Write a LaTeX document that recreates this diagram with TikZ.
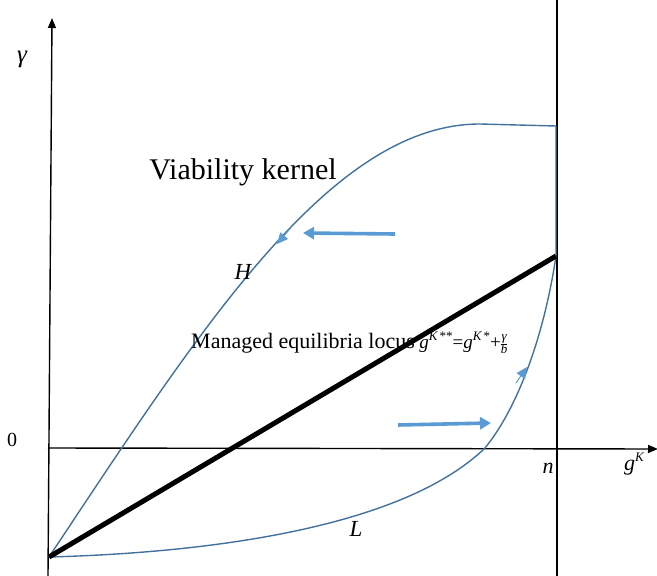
\documentclass[tikz,border=0pt]{standalone}
\usepackage{amsmath,amssymb}
\usepackage{fontspec}
\setmainfont{Liberation Serif}
\usepackage{tikz}
\usetikzlibrary{positioning,arrows.meta,calc}
\definecolor{curve}{HTML}{41719C}
\definecolor{flow}{HTML}{5B9BD5}
\newcommand{\supK}[1]{\raisebox{0.42em}{\fontsize{13}{13}\selectfont #1}}
\newcommand{\gamfrac}{{\fontsize{13}{13}\selectfont\itshape\renewcommand{\arraystretch}{0.85}%
  \setlength{\tabcolsep}{0pt}\begin{tabular}[c]{c}γ\\\hline b\end{tabular}}}
\tikzset{
  axis/.style={black,line width=1.4pt,-{Triangle[length=10pt,width=8pt]}},
  border/.style={curve,line width=1.4pt},
  flowarrow/.style={flow,line width=3.6pt,-{Triangle[length=11pt,width=12pt]}},
  tipon/.style={flow,line width=1pt,-{Triangle[length=11pt,width=10pt]}},
  lbl/.style={font=\fontsize{22}{24}\selectfont\itshape,inner sep=0pt},
  curvelbl/.style={font=\fontsize{23}{25}\selectfont\itshape,inner sep=0pt}
}

\begin{document}
\begin{tikzpicture}[x=1pt,y=-1pt]
  \useasboundingbox (0,0) rectangle (657,576);
  % corner points
  \coordinate (O) at (49,557);
  \coordinate (ybot) at (48,576);
  \coordinate (ytop) at (52,18);
  \coordinate (xl) at (48,448);
  \coordinate (xr) at (658,449);
  \coordinate (ntop) at (557,0);
  \coordinate (nbot) at (557,576);
  \coordinate (E) at (556,256);
  \coordinate (Htop) at (556,126);
  % axes
  \draw[axis] (ybot) -- (ytop);
  \draw[axis] (xl) -- (xr);
  \draw[black,line width=1.3pt] (ntop) -- (nbot);
  % boundary of the kernel
  \draw[border] (O) .. controls (200,330) and (330,124) .. (480,124) -- (Htop) -- (E);
  \draw[border] (O) .. controls (200,553) and (400,530) .. (485,448)
                    .. controls (520,405) and (545,330) .. (E);
  % equilibria
  \draw[black,line width=5pt] (O) -- (E);
  % flow arrows
  \coordinate (a1) at (395,234);
  \coordinate (a2) at (303,233);
  \coordinate (b1) at (398,425);
  \coordinate (b2) at (491,423);
  \draw[flowarrow] (a1) -- (a2);
  \draw[flowarrow] (b1) -- (b2);
  \coordinate (c1) at (289,230);
  \coordinate (c2) at (277,244);
  \coordinate (d1) at (516,383);
  \coordinate (d2) at (527,367);
  \draw[tipon] (c1) -- (c2);
  \draw[tipon] (d1) -- (d2);
  % labels
  \node[lbl,font=\fontsize{25}{27}\selectfont\itshape] (gam) at (22,59) {γ};
  \node[lbl,font=\fontsize{20}{22}\selectfont] (zero) at (12,440) {0};
  \node[lbl] (nn) at (548,468) {n};
  \node[lbl] (gk) at (634,464) {g\supK{K}};
  \node[curvelbl] (HH) at (243,272) {H};
  \node[curvelbl] (LL) at (356,529) {L};
  \node[inner sep=0pt,font=\fontsize{30}{32}\selectfont] (vk) at (243,172) {Viability kernel};
  \node[inner sep=0pt,anchor=base west] (mel) at (191,348)
    {\fontsize{22}{24}\selectfont Managed equilibria locus
     {\fontsize{19}{21}\selectfont\hspace{-1pt}\itshape g\supK{K\,\upshape**}\upshape=\itshape
      g\supK{K\,\upshape*}\upshape+\gamfrac}};
\end{tikzpicture}
\end{document}
